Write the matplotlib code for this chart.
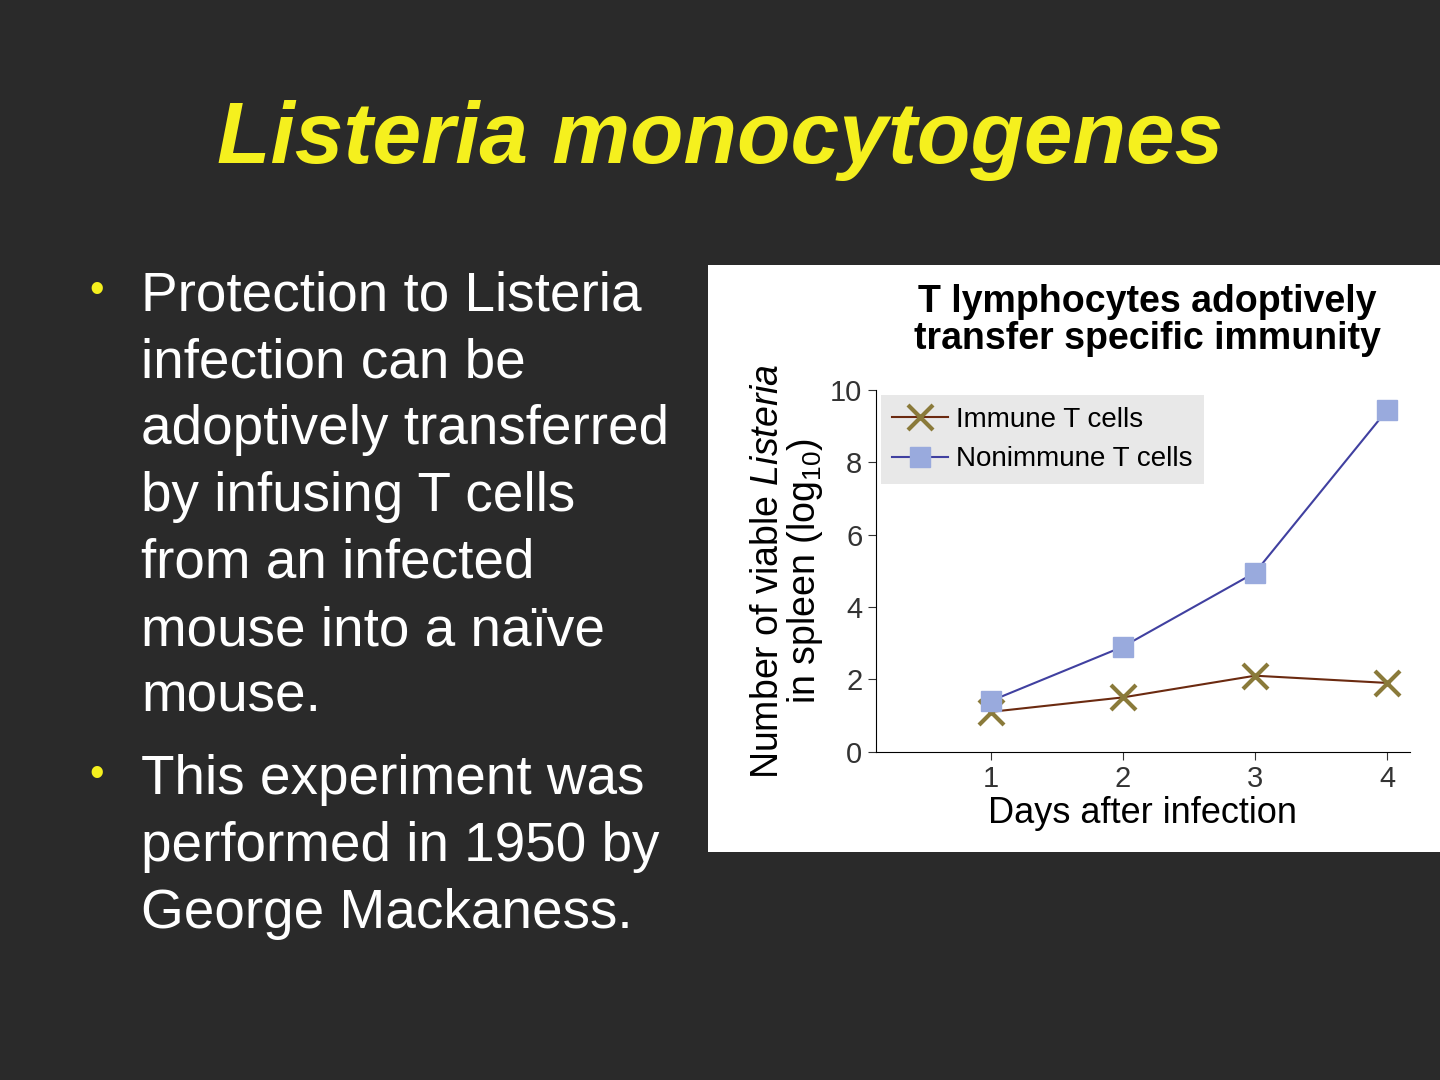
import matplotlib
matplotlib.use("Agg")
import matplotlib.pyplot as plt

plt.rcParams["font.family"] = ["Liberation Sans", "DejaVu Sans"]
plt.rcParams["mathtext.fontset"] = "custom"
plt.rcParams["mathtext.rm"] = "Liberation Sans"
plt.rcParams["mathtext.it"] = "Liberation Sans:italic"

days = [1, 2, 3, 4]
immune = [1.1, 1.5, 2.1, 1.9]
nonimmune = [1.4, 2.9, 4.95, 9.45]
yticks = [0, 2, 4, 6, 8, 10]

bullet1 = ["Protection to Listeria", "infection can be", "adoptively transferred",
           "by infusing T cells", "from an infected", "mouse into a naïve", "mouse."]
bullet2 = ["This experiment was", "performed in 1950 by", "George Mackaness."]

fig = plt.figure(figsize=(14.4, 10.8), dpi=100)
fig.patch.set_facecolor("#2a2a2a")

fig.text(0.5, 0.87, "Listeria monocytogenes", color="#f5f01e", fontsize=63,
         fontweight="bold", fontstyle="italic", ha="center", va="center")

line_h = 67 / 1080
y = 1 - 296 / 1080
for i, ln in enumerate(bullet1):
    fig.text(0.098, y - i * line_h, ln, color="white", fontsize=39.5, va="center")
fig.text(0.062, y + 0.005, "•", color="#f5f01e", fontsize=30, va="center")
y2 = 1 - 780 / 1080
for i, ln in enumerate(bullet2):
    fig.text(0.098, y2 - i * line_h, ln, color="white", fontsize=39.5, va="center")
fig.text(0.062, y2 + 0.005, "•", color="#f5f01e", fontsize=30, va="center")

# white figure panel
bg = fig.add_axes([0.492, 0.211, 0.508, 0.544])
bg.set_facecolor("white")
bg.set_xticks([])
bg.set_yticks([])
for s in bg.spines.values():
    s.set_visible(False)
bg.text(0.6, 0.905, "T lymphocytes adoptively\ntransfer specific immunity",
        transform=bg.transAxes, ha="center", va="center", fontsize=27,
        fontweight="bold", linespacing=1.05)

ax = fig.add_axes([0.608, 0.304, 0.371, 0.335])
ax.set_facecolor("white")
ax.plot(days, immune, color="#6b2a10", lw=1.5, marker="x", ms=18, mew=3,
        mec="#8a7a3a", label="Immune T cells")
ax.plot(days, nonimmune, color="#4040a0", lw=1.5, marker="s", ms=14,
        mfc="#99aadd", mec="#99aadd", label="Nonimmune T cells")
ax.set_xlim(0.13, 4.17)
ax.set_ylim(0, 10)
ax.set_xticks(days)
ax.set_yticks(yticks)
ax.tick_params(labelsize=21, colors="#333333", length=6)
for s in ["top", "right"]:
    ax.spines[s].set_visible(False)
ax.set_xlabel("Days after infection", fontsize=26, labelpad=2)
ax.set_ylabel("Number of viable $\\it{Listeria}$\nin spleen (log$_{10}$)",
              fontsize=27, linespacing=0.95)
ax.legend(loc="upper left", fontsize=20, frameon=True, facecolor="#e8e8e8",
          edgecolor="none", framealpha=1, borderaxespad=0.2, handletextpad=0.3,
          fancybox=False)
fig.savefig("out.png", dpi=100, facecolor=fig.get_facecolor())
